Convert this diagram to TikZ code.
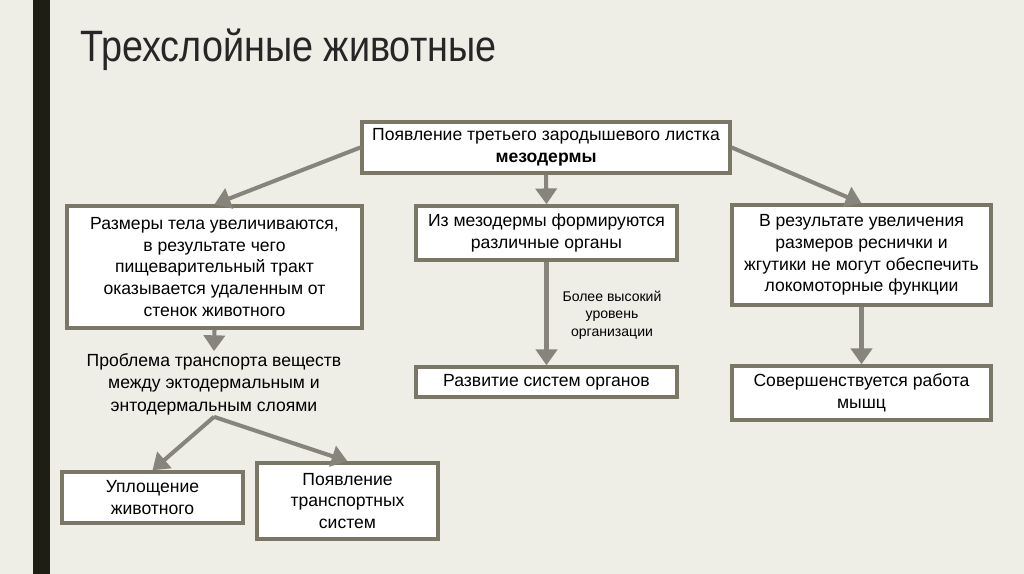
\documentclass[tikz,border=0pt]{standalone}
\usepackage{fontspec}
\setmainfont{Liberation Sans}
\usetikzlibrary{arrows.meta}
\definecolor{slidebg}{HTML}{EEEDE6}
\definecolor{barcol}{HTML}{1E1E14}
\definecolor{boxline}{HTML}{7B7767}
\definecolor{linkgray}{HTML}{86847B}

\begin{document}
\begin{tikzpicture}[x=0.02cm, y=-0.02cm,
        box/.style={draw=boxline, line width=2pt, fill=white, align=center, inner sep=2pt,
            font=\fontsize{10}{12.3}\selectfont},
        note/.style={align=center, inner sep=1pt, font=\fontsize{10}{12.8}\selectfont},
        small/.style={align=center, inner sep=1pt, font=\fontsize{8}{10}\selectfont},
        link/.style={draw=linkgray, line width=2.3pt, -{Triangle[length=9pt,width=12pt]}}
    ]
        \useasboundingbox[fill=slidebg] (0,0) rectangle (1024,574);
        \fill[barcol] (33,0) rectangle (50,574);
        \node[anchor=base west, inner sep=0pt, xscale=0.86, transform shape,
            font=\fontsize{25}{30}\selectfont, text=black!85] (title) at (80,62) {Трехслойные животные};

        \node[box, minimum width=7.36cm, minimum height=1.02cm] (mez) at (546,147.5) {Появление третьего зародышевого листка\\\textbf{мезодермы}};
        \node[box, minimum width=5.9cm, minimum height=2.44cm] (razm) at (214.5,267) {Размеры тела увеличиваются,\\в результате чего\\пищеварительный тракт\\оказывается удаленным от\\стенок животного};
        \node[box, minimum width=5.22cm, minimum height=1.08cm] (form) at (546.5,233) {Из мезодермы формируются\\различные органы};
        \node[box, minimum width=5.22cm, minimum height=0.6cm] (sist) at (546.5,382) {Развитие систем органов};
        \node[box, minimum width=5.18cm, minimum height=2.0cm] (resn) at (861.5,255) {В результате увеличения\\размеров реснички и\\жгутики не могут обеспечить\\локомоторные функции};
        \node[box, minimum width=5.18cm, minimum height=1.08cm] (mysh) at (861.5,393) {Совершенствуется работа\\мышц};
        \node[note] (probl) at (214,384) {Проблема транспорта веществ\\между эктодермальным и\\энтодермальным слоями};
        \node[box, minimum width=3.62cm, minimum height=1.02cm] (upl) at (152.5,497.5) {Уплощение\\животного};
        \node[box, minimum width=3.62cm, minimum height=1.52cm] (transp) at (347.5,501) {Появление\\транспортных\\систем};
        \node[small] (level) at (612,315) {Более высокий\\уровень\\организации};

        \draw[link] (mez.west) -- (razm.north);
        \draw[link] (mez.south) -- (form.north);
        \draw[link] (mez.east) -- (resn.north);
        \draw[link] (razm.south) -- (probl.north);
        \draw[link] (form.south) -- (sist.north);
        \draw[link] (resn.south) -- (mysh.north);
        \draw[link] (probl.south) -- (upl.north);
        \draw[link] (probl.south) -- (transp.north);
    \end{tikzpicture}
\end{document}
